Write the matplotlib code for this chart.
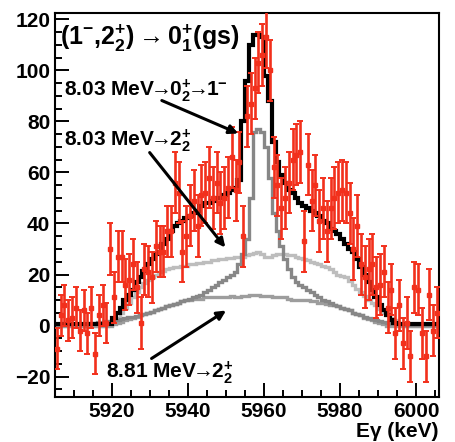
import numpy as np
import matplotlib
matplotlib.use("Agg")
import matplotlib.pyplot as plt

plt.rcParams.update({
    "font.family": ["Liberation Sans", "DejaVu Sans"],
    "font.weight": "bold",
    "mathtext.fontset": "custom",
    "mathtext.rm": "Liberation Sans:bold",
    "mathtext.it": "Liberation Sans:bold",
    "mathtext.bf": "Liberation Sans:bold",
    "mathtext.default": "bf",
})

RED, DARK, LIGHT, MID = "#f2301c", "#878787", "#bdbdbd", "#9d9d9d"

# 1 keV bins, 5905 .. 6006 keV
edges = np.arange(5905, 6007)

# measured spectrum (red points)
data_y = [
    -9, 4, 8, 2, 3, 7, -2, 6, -3, 7,
    -11, 4, 8, 1, 30, 11, 27, 27, 16, 18,
    24, 15, 1, 22, 21, 19, 31, 29, 29, 37,
    37, 56, 52, 29, 35, 43, 49, 39, 51, 52,
    58, 50, 56, 48, 50, 54, 66, 53, 64, 35,
    82, 87, 93, 103, 106, 113, 100, 62, 55, 46,
    50, 56, 65, 67, 68, 33, 63, 49, 55, 41,
    46, 37, 46, 50, 52, 53, 52, 44, 30, 39,
    24, 19, 22, 24, 15, 16, 21, 7, 14, -3,
    8, -7, 1, -12, 15, 14, -3, -12, 12, -2,
    5,
]
data_err = [
    8, 8, 8, 8, 8, 8, 8, 8, 8, 8,
    8, 8, 8, 8, 10, 10, 10, 10, 10, 10,
    10, 10, 10, 10, 10, 10, 10, 10, 10, 10,
    10, 12, 12, 12, 12, 12, 12, 12, 12, 12,
    12, 12, 12, 12, 12, 12, 12, 12, 12, 12,
    12, 12, 12, 12, 12, 12, 12, 12, 12, 12,
    12, 12, 12, 12, 12, 12, 12, 12, 12, 12,
    12, 12, 12, 12, 12, 12, 12, 12, 12, 12,
    12, 12, 12, 12, 12, 12, 10, 10, 10, 10,
    10, 10, 10, 10, 10, 10, 10, 10, 10, 10,
    10,
]

# total simulated response (black)
total = [0.5] * 15 + [
    3, 5, 7, 10, 12, 14, 17, 19, 21.5, 24,
    26, 28, 29, 32, 34, 37, 39, 40, 41, 42,
    43, 44, 45, 47, 48, 48, 49, 50, 50, 51,
    52, 53, 54, 57, 80, 96, 110, 114, 114, 113,
    98, 88, 72, 64, 59, 56, 53, 52, 50, 48,
    47, 46, 45, 44, 43, 41, 40, 38, 37, 36,
    34, 32, 30, 29, 26, 23, 20, 17, 14, 11,
    8, 6, 4, 2, 1,
] + [0.5] * 11

# 8.03 MeV -> 0+2 -> 1-  (narrow peak)
narrow = [
    0.3, 0.3, 0.4, 0.4, 0.5, 0.5, 0.6, 0.7, 0.8, 0.9,
    1.0, 1.2, 1.4, 1.6, 1.8, 2.0, 2.3, 2.6, 2.9, 3.2,
    3.5, 3.9, 4.3, 4.7, 5.1, 5.5, 6.0, 6.5, 7.0, 7.5,
    8.0, 8.5, 9.0, 9.5, 10, 10.5, 11, 11.5, 12, 13,
    14, 15, 16, 17, 18, 19, 20, 21, 24, 28,
    34, 50, 76, 77, 76, 70, 58, 44, 37, 31,
    26, 22, 19, 17, 16, 15, 14, 13, 12, 11,
    10, 9.5, 9, 8, 7.5, 7, 6.5, 6, 5, 4.5,
    4, 3.5, 3, 2.5, 2, 1.6, 1.3, 1.0, 0.8, 0.6,
    0.5, 0.4, 0.4, 0.3, 0.3, 0.3, 0.2, 0.2, 0.2, 0.2,
    0.2,
]

# 8.03 MeV -> 2+2  (broad plateau)
broad803 = [0] * 14 + [
    0.5, 1.5, 3, 5, 7, 9, 11, 13, 15, 16.5,
    18, 19, 20, 21, 21.5, 22, 22.5, 23, 23, 23.5,
    23.5, 24, 24, 24.5, 24.5, 25, 25, 25.5, 25.5, 26,
    26, 26.5, 26.5, 27, 27, 27, 27.5, 28, 28.5, 29,
    28, 27, 27, 27.5, 28, 28, 28, 27.5, 27.5, 27,
    26.5, 26, 25.5, 25, 24.5, 24, 23.5, 23, 22, 21,
    20, 19.5, 19, 17.5, 16, 14.5, 13, 11.5, 10, 9,
    8, 6.5, 5, 4, 3, 2, 1, 0.5,
] + [0] * 9

# 8.81 MeV -> 2+2  (low broad)
broad881 = [0] * 15 + [
    0.5, 1, 1.5, 2, 2.5, 3, 3.5, 4, 4.5, 5,
    5.5, 6, 6.5, 7, 7.5, 8, 8.5, 9, 9.5, 10,
    10, 10.5, 10.5, 10.5, 11, 11, 11, 11, 11, 11,
    11, 11.5, 11, 11, 11.5, 11.5, 12, 12, 12, 11.5,
    11.5, 11.5, 11, 11, 11, 11, 10.5, 10, 10, 10,
    10, 10, 9.5, 9.5, 9, 9, 8.5, 8, 8, 7.5,
    7, 6.5, 6, 5, 4.5, 4, 3, 2.5, 2, 1.5,
    1, 0.5,
] + [0] * 14

for s in (data_y, data_err, total, narrow, broad803, broad881):
    assert len(s) == len(edges) - 1, len(s)

fig = plt.figure(figsize=(4.56, 4.42), dpi=100)
ax = fig.add_axes([0.1206, 0.1018, 0.8421, 0.8688])

centers = edges[:-1] + 0.5
ax.stairs(broad803, edges, baseline=None, color=LIGHT, lw=2.4, zorder=2)
ax.stairs(broad881, edges, baseline=None, color=MID, lw=2.4, zorder=2)
ax.stairs(narrow, edges, baseline=None, color=DARK, lw=2.4, zorder=2)
ax.stairs(total, edges, baseline=None, color="black", lw=3.0, zorder=3)
ax.errorbar(centers, data_y, yerr=data_err, fmt="s", ms=2.6, color=RED,
            elinewidth=1.9, capsize=2, capthick=1.4, zorder=4)

ax.set_xlim(5905, 6006)
ax.set_ylim(-28, 122.5)
ax.set_xticks([5920, 5940, 5960, 5980, 6000])
ax.set_yticks([-20, 0, 20, 40, 60, 80, 100, 120])
ax.set_xticks(np.arange(5910, 6006, 5), minor=True)
ax.set_yticks(np.arange(-25, 121, 5), minor=True)
ax.tick_params(which="both", direction="in", width=1.4, labelsize=15)
ax.tick_params(which="major", length=10)
ax.tick_params(which="minor", length=5)
for lab in ax.get_xticklabels() + ax.get_yticklabels():
    lab.set_fontweight("bold")
for sp in ax.spines.values():
    sp.set_linewidth(1.5)
ax.set_xlabel("E\u03b3 (keV)", loc="right", fontsize=15, fontweight="bold", labelpad=1)

ARR = r"$\!\!\rightarrow\!\!$"
ax.text(5906.3, 112.5, r"(1$^{-}$,2$_{2}^{+}$)$\rightarrow$0$_{1}^{+}$(gs)",
        fontsize=18, fontweight="bold", va="center", ha="left")
ax.text(5907.5, 92, "8.03 MeV" + ARR + "0$_{2}^{+}$" + ARR + "1$^{-}$",
        fontsize=15, fontweight="bold", va="center", ha="left")
ax.text(5907.5, 72.5, "8.03 MeV" + ARR + "2$_{2}^{+}$",
        fontsize=15, fontweight="bold", va="center", ha="left")
ax.text(5918.5, -18.5, "8.81 MeV" + ARR + "2$_{2}^{+}$",
        fontsize=15, fontweight="bold", va="center", ha="left")

arrow = dict(arrowstyle="-|>", lw=2.2, color="black", mutation_scale=13, shrinkA=0, shrinkB=0)
ax.annotate("", xy=(5953.2, 75.3), xytext=(5933.1, 88.2), arrowprops=arrow, zorder=5)
ax.annotate("", xy=(5949.8, 30.6), xytext=(5929.9, 67.8), arrowprops=arrow, zorder=5)
ax.annotate("", xy=(5950.0, 5.9), xytext=(5930.4, -12.9), arrowprops=arrow, zorder=5)

fig.savefig("out.png", dpi=100)
